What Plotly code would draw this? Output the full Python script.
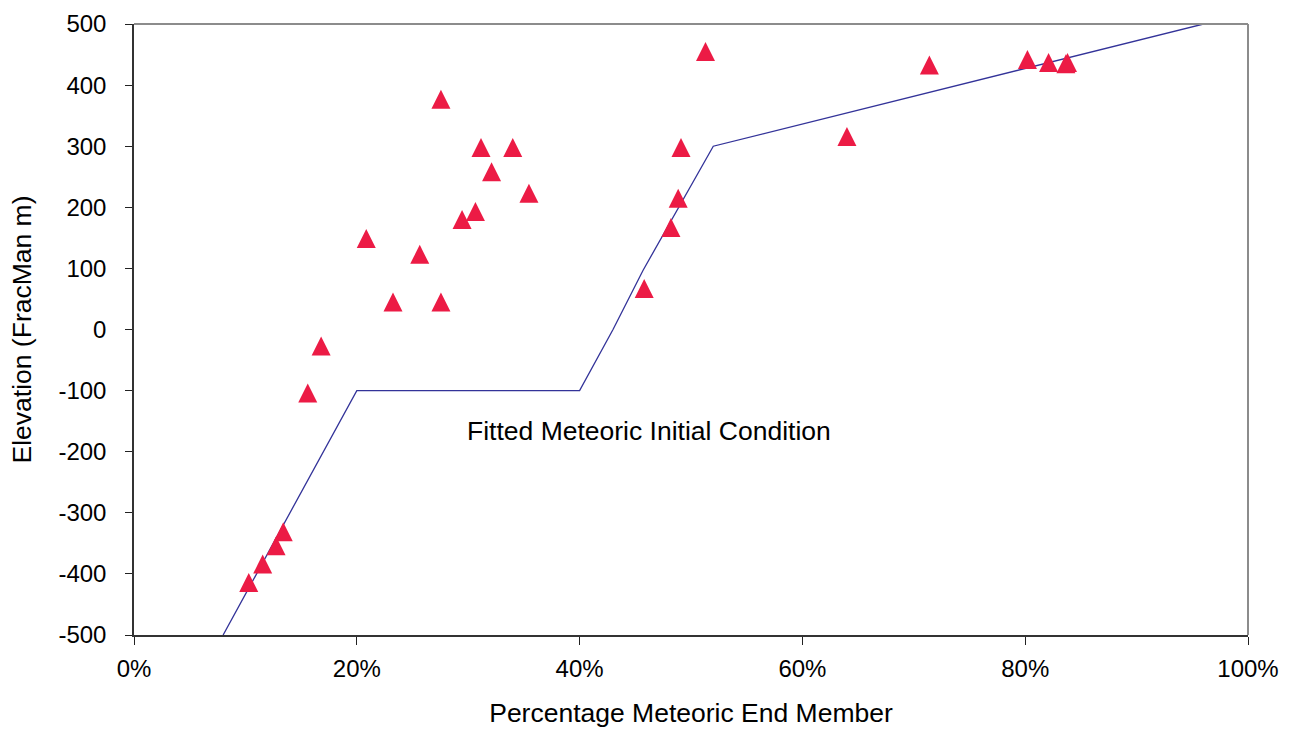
import plotly.graph_objects as go

# Measured samples: percentage meteoric end member vs. elevation
sample_pct = [10.3, 11.55, 12.75, 13.4, 15.6, 16.8, 20.85, 23.25, 25.65, 27.55,
              27.55, 29.45, 30.65, 31.15, 32.1, 34.0, 35.45, 45.8, 48.2, 48.85,
              49.1, 51.3, 64.0, 71.4, 80.2, 82.1, 83.65, 83.8]
sample_elev = [-414, -384, -354, -331, -104, -27, 149, 45, 123, 45,
               377, 180, 193, 298, 258, 298, 223, 67, 167, 215,
               298, 455, 316, 433, 442, 437, 435, 437]

# Fitted meteoric initial condition profile
fit_pct = [8.0, 14.15, 14.75, 20.0, 40.0, 43.0, 45.7, 52.0, 96.0]
fit_elev = [-500, -295, -274, -100, -100, 0, 97, 300, 500]

x_ticks = [0, 20, 40, 60, 80, 100]
x_labels = ["0%", "20%", "40%", "60%", "80%", "100%"]
y_ticks = [-500, -400, -300, -200, -100, 0, 100, 200, 300, 400, 500]
y_labels = ["-500", "-400", "-300", "-200", "-100", "0",
            "100", "200", "300", "400", "500"]

FONT = "Liberation Sans, Arial, sans-serif"
MARK = "#ec1b45"
MSIZE = 19

fig = go.Figure()

fig.add_trace(go.Scatter(
    x=fit_pct, y=fit_elev, mode="lines",
    line=dict(color="#333399", width=1.3),
    hoverinfo="skip", showlegend=False,
))

# upward triangles centred on each sample
fig.add_trace(go.Scatter(
    x=sample_pct, y=sample_elev, mode="markers",
    marker=dict(symbol="arrow-down", angle=180, standoff=MSIZE / 2,
                size=MSIZE, color=MARK, line=dict(width=0)),
    showlegend=False,
))

fig.add_annotation(
    x=46.27, y=-166, xref="x", yref="y",
    text="Fitted Meteoric Initial Condition", showarrow=False,
    font=dict(family=FONT, size=26.5, color="black"),
)

# grey frame on the top and right edges of the plot area
fig.add_shape(type="line", xref="paper", yref="paper", x0=0, x1=1, y0=1, y1=1,
              line=dict(color="#8c8c8c", width=2))
fig.add_shape(type="line", xref="paper", yref="paper", x0=1, x1=1, y0=0, y1=1,
              line=dict(color="#8c8c8c", width=2))

fig.update_layout(
    width=1299, height=731,
    margin=dict(l=134, r=51, t=24, b=96),
    paper_bgcolor="white", plot_bgcolor="white",
    font=dict(family=FONT, size=24, color="black"),
    xaxis=dict(
        range=[0, 100], tickvals=x_ticks, ticktext=x_labels,
        ticks="outside", ticklen=8, tickwidth=1.3, tickcolor="#222",
        showline=True, linecolor="#333", linewidth=1.5,
        showgrid=False, zeroline=False, automargin=False,
        tickfont=dict(size=24), ticklabelstandoff=3,
        title=dict(text="Percentage Meteoric End Member",
                   font=dict(size=26.5), standoff=23),
    ),
    yaxis=dict(
        range=[-500, 500], tickvals=y_ticks, ticktext=y_labels,
        ticks="outside", ticklen=7, tickwidth=1.3, tickcolor="#222",
        showline=True, linecolor="#333", linewidth=1.5,
        showgrid=False, zeroline=False, automargin=False,
        tickfont=dict(size=24), ticklabelstandoff=14,
        title=dict(text="Elevation (FracMan m)",
                   font=dict(size=26.5), standoff=19),
    ),
)

fig.write_html("out.html")
